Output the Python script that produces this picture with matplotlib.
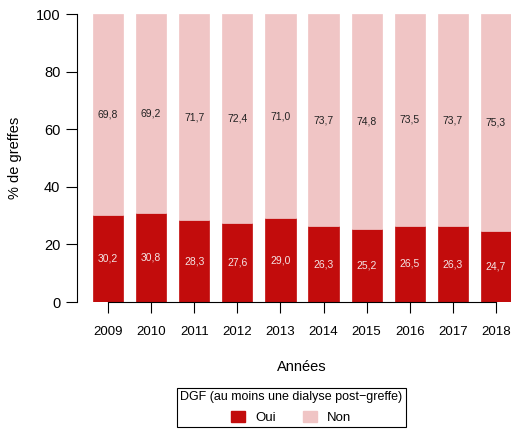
import matplotlib
matplotlib.use("Agg")
import matplotlib.pyplot as plt
import matplotlib.patches as mpatches

plt.rcParams['font.family'] = ['Liberation Sans', 'DejaVu Sans']

years = ["2009", "2010", "2011", "2012", "2013", "2014", "2015", "2016", "2017", "2018"]
oui = [30.2, 30.8, 28.3, 27.6, 29.0, 26.3, 25.2, 26.5, 26.3, 24.7]
non = [69.8, 69.2, 71.7, 72.4, 71.0, 73.7, 74.8, 73.5, 73.7, 75.3]

col_oui = "#C20C0C"
col_non = "#F0C5C5"

fig = plt.figure(figsize=(5.11, 4.29), dpi=100)
# plot region in pixels: x 77..511, y 14..302
ax = fig.add_axes([77 / 511, 1 - 302 / 429, (511 - 77) / 511, (302 - 14) / 429])

x = list(range(len(years)))
ax.bar(x, oui, width=0.7, color=col_oui, edgecolor=col_oui, linewidth=0.5)
ax.bar(x, non, width=0.7, bottom=oui, color=col_non, edgecolor=col_non, linewidth=0.5)

def fmt(v):
    return ("%.1f" % v).replace(".", ",")

for i in x:
    ax.text(i, oui[i] / 2, fmt(oui[i]), ha="center", va="center",
            fontsize=7.5, color="#F4E4E4")
    ax.text(i, oui[i] + non[i] / 2, fmt(non[i]), ha="center", va="center",
            fontsize=7.5, color="#222222")

ax.set_xlim(-0.72, 9.35)
ax.set_ylim(0, 100)
ax.set_yticks([0, 20, 40, 60, 80, 100])
ax.set_xticks(x)
ax.set_xticklabels(years)
ax.spines["top"].set_visible(False)
ax.spines["right"].set_visible(False)
ax.spines["left"].set_bounds(0, 100)
ax.spines["bottom"].set_bounds(0, 9)
ax.tick_params(axis="y", length=8, labelsize=10.5, pad=4)
ax.tick_params(axis="x", length=8, labelsize=9.5, pad=9)

fig.text(15 / 511, 1 - 158 / 429, "% de greffes", rotation=90,
         ha="center", va="center", fontsize=10.5)
fig.text(302 / 511, 1 - 367 / 429, "Années", ha="center", va="center",
         fontsize=10.5)

h_oui = mpatches.Patch(color=col_oui, label="Oui")
h_non = mpatches.Patch(color=col_non, label="Non")
leg = fig.legend(handles=[h_oui, h_non], ncol=2,
                 title="DGF (au moins une dialyse post\u2212greffe)",
                 loc="upper center", bbox_to_anchor=(291.5 / 511, 1 - 388 / 429),
                 fancybox=False, edgecolor="black", framealpha=1,
                 fontsize=9.5, title_fontsize=9, handlelength=1.05,
                 handleheight=1.0, columnspacing=2.0, borderpad=0.25,
                 labelspacing=0.55, handletextpad=0.8, borderaxespad=0)
leg.get_frame().set_linewidth(0.8)

fig.savefig("out.png", dpi=100)
